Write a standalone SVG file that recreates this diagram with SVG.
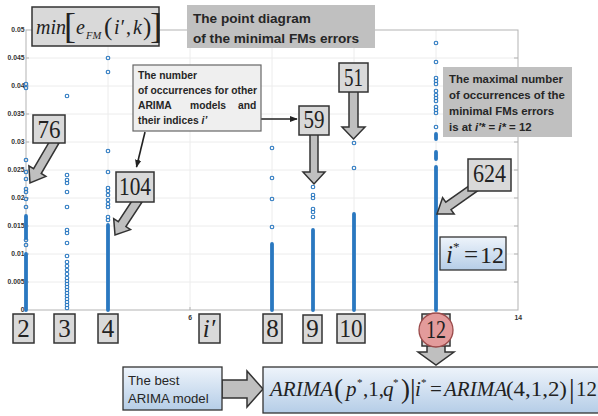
<svg xmlns="http://www.w3.org/2000/svg" width="598" height="416" viewBox="0 0 598 416">
<defs>
<linearGradient id="blue" x1="0" y1="0" x2="0" y2="1">
<stop offset="0" stop-color="#eef4fb"/>
<stop offset="1" stop-color="#b5cde7"/>
</linearGradient>
<marker id="ah" viewBox="0 0 10 10" refX="9" refY="5" markerWidth="8" markerHeight="8" markerUnits="userSpaceOnUse" orient="auto">
<path d="M0,1 L10,5 L0,9 z" fill="#222"/>
</marker>
</defs>
<style>
.grid{stroke:#ececec;stroke-width:1;fill:none}
.ax{stroke:#b3b3b3;stroke-width:1;fill:none}
.tk{font-family:"Liberation Sans",Arial,sans-serif;font-size:6.8px;font-weight:bold;fill:#333}
.d{fill:none;stroke:#2a78c0;stroke-width:1.1}
.dl{stroke:#2a78c0;stroke-width:3.8;stroke-linecap:round}
.num{fill:#d9d9d9;stroke:#333;stroke-width:1.5}
.mt{font-family:"Liberation Serif","Times New Roman",serif;fill:#222}
.it{font-style:italic}
.blk{fill:#bfbfbf;stroke:#333;stroke-width:1.5;stroke-linejoin:miter}
.sans{font-family:"Liberation Sans",Arial,sans-serif;fill:#262626}
.b{font-weight:bold}
.gbox{fill:#c0c0c0}
.bluebox{fill:url(#blue);stroke:#333;stroke-width:1.3}
.thin{stroke:#222;stroke-width:1.6;fill:none}
</style>

<g id="plot">
<g id="grid">
<path class="grid" d="M26,58H518M26,86H518M26,114H518M26,142H518M26,170H518M26,198H518M26,226H518M26,254H518M26,282H518"/>
<path class="grid" d="M108,30V310M190,30V310M272,30V310M354,30V310M436,30V310"/>
</g>
<g id="axes">
<rect class="ax" x="26" y="30" width="492" height="280"/>
<path class="ax" d="M26,58h3M26,86h3M26,114h3M26,142h3M26,170h3M26,198h3M26,226h3M26,254h3M26,282h3"/>
<path class="ax" d="M518,58h-4M518,86h-4M518,114h-4M518,142h-4M518,170h-4M518,198h-4M518,226h-4M518,254h-4M518,282h-4"/>
<path class="ax" d="M108,310v-3M190,310v-3M272,310v-3M354,310v-3M436,310v-3"/>
</g>
<g id="ticklabels" text-anchor="end">
<text class="tk" x="24.5" y="32.4">0.05</text>
<text class="tk" x="24.5" y="60.4">0.045</text>
<text class="tk" x="24.5" y="88.4">0.04</text>
<text class="tk" x="24.5" y="116.4">0.035</text>
<text class="tk" x="24.5" y="144.4">0.03</text>
<text class="tk" x="24.5" y="172.4">0.025</text>
<text class="tk" x="24.5" y="200.4">0.02</text>
<text class="tk" x="24.5" y="228.4">0.015</text>
<text class="tk" x="24.5" y="256.4">0.01</text>
<text class="tk" x="24.5" y="284.4">0.005</text>
<text class="tk" x="24.5" y="312.4">0</text>
<text class="tk" x="192" y="320">6</text>
<text class="tk" x="522" y="320">14</text>
</g>
<g id="points">
<path class="dl" d="M26,254V310M26,216V238M108,225V310M272,244V310M313,230V310M354,214V310M436,134V139M436,152V159"/>
<path class="dl" d="M436,167V310" stroke-width="4.4"/>
<g transform="translate(26,0)">
<circle class="d" r="1.8" cy="84"/><circle class="d" r="1.8" cy="88"/><circle class="d" r="1.8" cy="160"/><circle class="d" r="1.8" cy="172"/><circle class="d" r="1.8" cy="179"/><circle class="d" r="1.8" cy="189"/><circle class="d" r="1.8" cy="192"/><circle class="d" r="1.8" cy="199"/><circle class="d" r="1.8" cy="207"/><circle class="d" r="1.8" cy="240"/><circle class="d" r="1.8" cy="245"/>
</g>
<g transform="translate(67,0)">
<circle class="d" r="1.8" cy="96"/><circle class="d" r="1.8" cy="175"/><circle class="d" r="1.8" cy="180"/><circle class="d" r="1.8" cy="183"/><circle class="d" r="1.8" cy="192"/><circle class="d" r="1.8" cy="207"/><circle class="d" r="1.8" cy="230"/><circle class="d" r="1.8" cy="233"/><circle class="d" r="1.8" cy="243"/><circle class="d" r="1.8" cy="256"/><circle class="d" r="1.8" cy="262"/><circle class="d" r="1.8" cy="266"/><circle class="d" r="1.8" cy="270"/><circle class="d" r="1.8" cy="274"/><circle class="d" r="1.8" cy="278"/><circle class="d" r="1.8" cy="281"/><circle class="d" r="1.8" cy="284"/><circle class="d" r="1.8" cy="287"/><circle class="d" r="1.8" cy="290"/><circle class="d" r="1.8" cy="293"/><circle class="d" r="1.8" cy="296"/><circle class="d" r="1.8" cy="299"/><circle class="d" r="1.8" cy="302"/><circle class="d" r="1.8" cy="305"/><circle class="d" r="1.8" cy="308"/>
</g>
<g transform="translate(108,0)">
<circle class="d" r="1.8" cy="58"/><circle class="d" r="1.8" cy="72"/><circle class="d" r="1.8" cy="151"/><circle class="d" r="1.8" cy="172"/><circle class="d" r="1.8" cy="188"/><circle class="d" r="1.8" cy="191"/><circle class="d" r="1.8" cy="195"/><circle class="d" r="1.8" cy="200"/><circle class="d" r="1.8" cy="204"/><circle class="d" r="1.8" cy="207"/><circle class="d" r="1.8" cy="217"/><circle class="d" r="1.8" cy="220"/>
</g>
<g transform="translate(272,0)">
<circle class="d" r="1.8" cy="148"/><circle class="d" r="1.8" cy="178"/><circle class="d" r="1.8" cy="199"/><circle class="d" r="1.8" cy="227"/>
</g>
<g transform="translate(313,0)">
<circle class="d" r="1.8" cy="187"/><circle class="d" r="1.8" cy="195"/><circle class="d" r="1.8" cy="198"/><circle class="d" r="1.8" cy="209"/><circle class="d" r="1.8" cy="212"/><circle class="d" r="1.8" cy="217"/>
</g>
<g transform="translate(354,0)">
<circle class="d" r="1.8" cy="143"/><circle class="d" r="1.8" cy="168"/>
</g>
<g transform="translate(436,0)">
<circle class="d" r="1.8" cy="43"/><circle class="d" r="1.8" cy="62"/><circle class="d" r="1.8" cy="78"/><circle class="d" r="1.8" cy="81"/><circle class="d" r="1.8" cy="84"/><circle class="d" r="1.8" cy="91"/><circle class="d" r="1.8" cy="95"/><circle class="d" r="1.8" cy="98"/><circle class="d" r="1.8" cy="101"/><circle class="d" r="1.8" cy="107"/><circle class="d" r="1.8" cy="110"/><circle class="d" r="1.8" cy="113"/><circle class="d" r="1.8" cy="127"/>
</g>
</g>
</g>

<g id="connectors">
<polygon class="blk" points="51.2,138.6 33.6,168.7 28.9,165.8 30,183 45.9,176.4 41.2,173.5 58.8,143.4"/>
<polygon class="blk" points="134.2,197.5 118.3,221.6 113.7,218.6 115,235 130.5,229.6 125.9,226.6 141.8,202.5"/>
<polygon class="blk" points="310,134 318,134 318,172 325,172 314,184 303,172 310,172"/>
<polygon class="blk" points="349,91 358,91 358,127 365,127 353.5,139 342,127 349,127"/>
<polygon class="blk" points="475.4,181.3 445.8,202.2 442.6,197.7 437,214 454.2,214.1 451,209.6 480.6,188.7"/>
<polygon class="blk" points="427,344 445,344 445,352 454,352 436,365 418,352 427,352"/>
<polygon class="blk" points="222,380 247,380 247,371 263,389 247,407 247,398 222,398"/>
<path class="thin" d="M145,132 L136.5,167" marker-end="url(#ah)"/>
<path class="thin" d="M254,119 L297,119" marker-end="url(#ah)"/>
</g>

<g id="formula-min">
<rect class="num" x="32" y="7" width="127" height="39"/>
<text class="mt"><tspan class="it" x="36" y="34" font-size="20">min</tspan><tspan x="64" y="38" font-size="36" font-weight="normal">[</tspan><tspan class="it" x="76" y="34" font-size="20">e</tspan><tspan class="it" x="86" y="39" font-size="10.5">FM</tspan><tspan x="104" y="35" font-size="25">(</tspan><tspan class="it" x="114" y="34" font-size="20">i′</tspan><tspan x="126" y="34" font-size="20">,</tspan><tspan class="it" x="133" y="34" font-size="20">k</tspan><tspan x="143" y="35" font-size="25">)</tspan><tspan x="150" y="38" font-size="36">]</tspan></text>
</g>

<g id="title">
<rect class="gbox" x="187" y="5" width="188" height="43"/>
<text class="sans b" font-size="13.6"><tspan x="193" y="23">The point diagram</tspan><tspan x="193" y="43">of the minimal FMs errors</tspan></text>
</g>

<g id="note-max">
<rect class="gbox" x="443" y="67" width="129" height="70"/>
<text class="sans b" font-size="11.4"><tspan x="449" y="83">The maximal number</tspan><tspan x="449" y="99">of occurrences of the</tspan><tspan x="449" y="115">minimal FMs errors</tspan><tspan x="449" y="131">is at  <tspan class="it">i′*</tspan> = <tspan class="it">i*</tspan> = 12</tspan></text>
</g>

<g id="note-other">
<rect x="133" y="65" width="128" height="66" fill="#efefef" stroke="#666" stroke-width="1.2"/>
<text class="sans b" font-size="10.3"><tspan x="138" y="79">The number</tspan><tspan x="138" y="94">of occurrences for other</tspan><tspan x="138" y="109">ARIMA</tspan><tspan x="190" y="109">models</tspan><tspan x="238" y="109">and</tspan><tspan x="138" y="124">their indices <tspan class="it">i’</tspan></tspan></text>
</g>

<g id="n76"><rect class="num" x="33" y="115" width="32" height="28"/><text class="mt" x="49" y="138" font-size="26" text-anchor="middle" textLength="23" lengthAdjust="spacingAndGlyphs">76</text></g>
<g id="n104"><rect class="num" x="116" y="172" width="38" height="30"/><text class="mt" x="135" y="195" font-size="26" text-anchor="middle" textLength="32" lengthAdjust="spacingAndGlyphs">104</text></g>
<g id="n59"><rect class="num" x="299" y="106" width="30" height="29"/><text class="mt" x="314" y="128" font-size="26" text-anchor="middle" textLength="21" lengthAdjust="spacingAndGlyphs">59</text></g>
<g id="n51"><rect class="num" x="339" y="63" width="29" height="29"/><text class="mt" x="353.5" y="86" font-size="26" text-anchor="middle" textLength="19" lengthAdjust="spacingAndGlyphs">51</text></g>
<g id="n624"><rect class="num" x="468" y="159" width="43" height="32"/><text class="mt" x="489.5" y="182" font-size="26" text-anchor="middle" textLength="33" lengthAdjust="spacingAndGlyphs">624</text></g>

<g id="istar">
<rect class="bluebox" x="440" y="237" width="66" height="33"/>
<text class="mt"><tspan class="it" x="446" y="263" font-size="25">i</tspan><tspan x="453" y="251" font-size="13">*</tspan><tspan x="464" y="263" font-size="25">=</tspan><tspan x="480" y="263" font-size="24">12</tspan></text>
</g>

<g id="x-labels" text-anchor="middle">
<g id="x2"><rect class="num" x="13" y="314" width="21" height="29"/><text class="mt" x="23.5" y="337" font-size="25">2</text></g>
<g id="x3"><rect class="num" x="54" y="314" width="21" height="29"/><text class="mt" x="64.5" y="337" font-size="25">3</text></g>
<g id="x4"><rect class="num" x="98" y="314" width="20" height="29"/><text class="mt" x="108" y="337" font-size="25">4</text></g>
<g id="xi"><rect class="num" x="199" y="314" width="21" height="29"/><text class="mt it" x="209" y="337" font-size="25">i′</text></g>
<g id="x8"><rect class="num" x="263" y="314" width="19" height="29"/><text class="mt" x="272.5" y="337" font-size="25">8</text></g>
<g id="x9"><rect class="num" x="303" y="315" width="19" height="28"/><text class="mt" x="312.5" y="337" font-size="25">9</text></g>
<g id="x10"><rect class="num" x="337" y="314" width="28" height="29"/><text class="mt" x="351" y="337" font-size="25" textLength="23" lengthAdjust="spacingAndGlyphs">10</text></g>
<g id="x12"><rect class="num" x="422" y="314" width="28" height="32"/><circle cx="436" cy="330" r="17" fill="#e39b9b" stroke="#9a4a4a" stroke-width="1.3"/><text class="mt" x="436" y="338" font-size="25" fill="#4a1c1c" textLength="20" lengthAdjust="spacingAndGlyphs">12</text></g>
</g>

<g id="best">
<rect class="bluebox" x="123" y="367" width="99" height="43"/>
<text class="sans" font-size="13.2"><tspan x="128" y="385">The best</tspan><tspan x="128" y="403">ARIMA model</tspan></text>
</g>

<g id="result">
<rect class="bluebox" x="263" y="367" width="345" height="46"/>
<text class="mt" font-size="21"><tspan class="it" x="270" y="396">ARIMA</tspan><tspan x="334" y="398" font-size="27">(</tspan><tspan class="it" x="346" y="396">p</tspan><tspan x="357" y="386" font-size="11">*</tspan><tspan x="363" y="396">,1,</tspan><tspan class="it" x="383" y="396">q</tspan><tspan x="393" y="386" font-size="11">*</tspan><tspan x="401" y="398" font-size="27">)</tspan><tspan x="410" y="398" font-size="28">|</tspan><tspan class="it" x="415" y="396">i</tspan><tspan x="421" y="386" font-size="11">*</tspan><tspan x="430" y="396">=</tspan><tspan class="it" x="444" y="396">ARIMA</tspan><tspan x="506" y="396" textLength="61" lengthAdjust="spacingAndGlyphs">(4,1,2)</tspan><tspan x="569" y="398" font-size="28">|</tspan><tspan x="576" y="396">12</tspan></text>
</g>
</svg>
